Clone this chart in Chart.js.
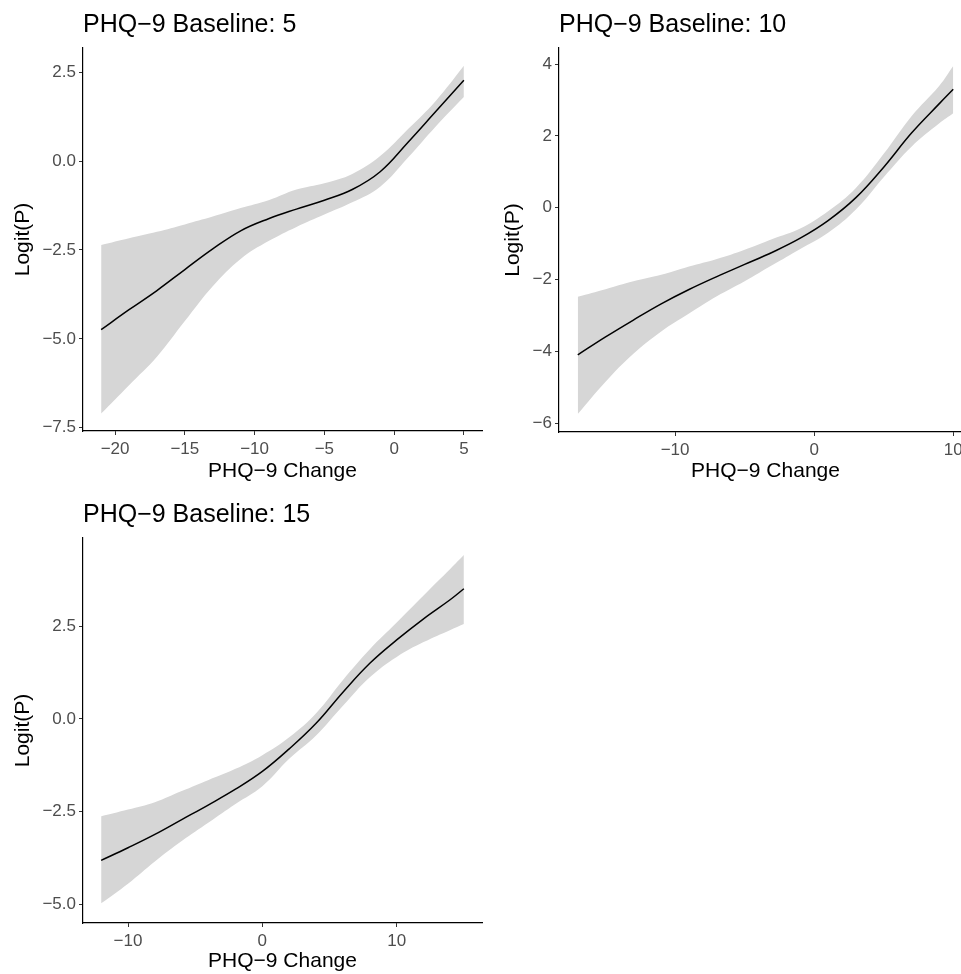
<!DOCTYPE html>
<html>
<head>
<meta charset="utf-8"/>
<title>PHQ-9 Logit(P)</title>
<script src="https://cdn.jsdelivr.net/npm/chart.js"></script>
<style>
  html, body { margin: 0; padding: 0; background: #fff; overflow: hidden; }
  body { width: 961px; height: 974px; position: relative; }
  canvas { position: absolute; }
  #c1 { left: 0; top: 0; }
  #c2 { left: 480px; top: 0; }
  #c3 { left: 0; top: 490px; }
</style>
</head>
<body>
<canvas id="c1" width="490" height="490"></canvas>
<canvas id="c2" width="500" height="490"></canvas>
<canvas id="c3" width="490" height="490"></canvas>
<script>
// Baseline 5
const change5 = [-21, -19, -17, -15, -13, -11, -9, -7, -5, -3, -1, 1, 3, 5];
const fit5    = [-4.74, -4.18, -3.64, -3.05, -2.47, -1.96, -1.62, -1.35, -1.1, -0.8, -0.3, 0.53, 1.4, 2.27];
const upper5  = [-2.36, -2.17, -1.99, -1.78, -1.56, -1.32, -1.1, -0.8, -0.62, -0.36, 0.14, 0.9, 1.7, 2.68];
const lower5  = [-7.1, -6.3, -5.5, -4.5, -3.52, -2.75, -2.25, -1.85, -1.5, -1.16, -0.72, 0.1, 0.98, 1.8];
const xTicks5 = [-20, -15, -10, -5, 0, 5];
const yTicks5 = [-7.5, -5, -2.5, 0, 2.5];

// Baseline 10
const change10 = [-17, -15, -13, -11, -9, -7, -5, -3, -1, 1, 3, 5, 7, 9, 10];
const fit10    = [-4.1, -3.6, -3.13, -2.68, -2.28, -1.92, -1.58, -1.24, -0.85, -0.36, 0.28, 1.13, 2.08, 2.9, 3.3];
const upper10  = [-2.48, -2.27, -2.05, -1.87, -1.64, -1.43, -1.17, -0.87, -0.58, -0.1, 0.55, 1.5, 2.55, 3.4, 3.95];
const lower10  = [-5.75, -4.85, -4.07, -3.45, -2.95, -2.47, -2.05, -1.6, -1.15, -0.7, -0.05, 0.85, 1.7, 2.35, 2.63];
const xTicks10 = [-10, 0, 10];
const yTicks10 = [-6, -4, -2, 0, 2, 4];

// Baseline 15
const change15 = [-12, -10, -8, -6, -4, -2, 0, 2, 4, 6, 8, 10, 12, 14, 15];
const fit15    = [-3.82, -3.48, -3.12, -2.72, -2.32, -1.9, -1.42, -0.81, -0.12, 0.72, 1.5, 2.13, 2.7, 3.22, 3.51];
const upper15  = [-2.63, -2.45, -2.25, -1.95, -1.65, -1.35, -0.98, -0.5, 0.15, 1.05, 1.88, 2.6, 3.33, 4.05, 4.42];
const lower15  = [-4.98, -4.45, -3.85, -3.3, -2.8, -2.3, -1.82, -1.08, -0.45, 0.35, 1.12, 1.67, 2.07, 2.4, 2.56];
const xTicks15 = [-10, 0, 10];
const yTicks15 = [-5, -2.5, 0, 2.5];

const FONT = "'Liberation Sans', Arial, sans-serif";

function fmt(v, dec) {
    const s = Math.abs(v).toFixed(dec);
    return v < 0 ? '\u2212' + s : s;
}

function pts(xs, ys) {
    return xs.map((x, i) => ({ x: x, y: ys[i] }));
}

function makePanel(id, p) {
    const ctx = document.getElementById(id).getContext('2d');
    return new Chart(ctx, {
        type: 'line',
        data: {
            datasets: [
                {
                    data: pts(p.xs, p.fit),
                    borderColor: '#000',
                    borderWidth: 1.5,
                    pointRadius: 0,
                    tension: 0.4,
                    fill: false,
                    order: 0
                },
                {
                    data: pts(p.xs, p.upper),
                    borderWidth: 0,
                    borderColor: 'rgba(0,0,0,0)',
                    backgroundColor: '#d6d6d6',
                    pointRadius: 0,
                    tension: 0.4,
                    fill: '+1',
                    order: 1
                },
                {
                    data: pts(p.xs, p.lower),
                    borderWidth: 0,
                    borderColor: 'rgba(0,0,0,0)',
                    pointRadius: 0,
                    tension: 0.4,
                    fill: false,
                    order: 2
                }
            ]
        },
        options: {
            responsive: false,
            animation: false,
            devicePixelRatio: 1,
            layout: { padding: { top: 0, right: p.padRight, bottom: 0, left: 0 } },
            plugins: {
                legend: { display: false },
                tooltip: { enabled: false },
                title: {
                    display: true,
                    text: p.title,
                    align: 'start',
                    fullSize: false,
                    color: '#000',
                    font: { family: FONT, size: 25, weight: 'normal' },
                    padding: { top: 10.5, bottom: 7.5 }
                }
            },
            scales: {
                x: {
                    type: 'linear',
                    min: p.xMin,
                    max: p.xMax,
                    afterBuildTicks: (axis) => { axis.ticks = p.xTicks.map(v => ({ value: v })); },
                    afterFit: (scale) => { scale.height = p.xAxisHeight; },
                    ticks: {
                        color: '#4d4d4d',
                        padding: 4,
                        maxRotation: 0,
                        font: { family: FONT, size: 17 },
                        callback: (v) => fmt(v, 0)
                    },
                    grid: { drawOnChartArea: false, drawTicks: true, tickLength: 4, tickColor: '#333' },
                    border: { display: true, color: '#000', width: 1.2 },
                    title: {
                        display: true,
                        text: 'PHQ\u22129 Change',
                        color: '#000',
                        font: { family: FONT, size: 21 },
                        padding: { top: 0, bottom: 5.7 }
                    }
                },
                y: {
                    type: 'linear',
                    min: p.yMin,
                    max: p.yMax,
                    afterBuildTicks: (axis) => { axis.ticks = p.yTicks.map(v => ({ value: v })); },
                    afterFit: (scale) => { scale.width = p.yAxisWidth; },
                    ticks: {
                        color: '#4d4d4d',
                        padding: 3,
                        font: { family: FONT, size: 17 },
                        callback: (v) => fmt(v, p.yDec)
                    },
                    grid: { drawOnChartArea: false, drawTicks: true, tickLength: 4, tickColor: '#333' },
                    border: { display: true, color: '#000', width: 1.2 },
                    title: {
                        display: true,
                        text: 'Logit(P)',
                        color: '#000',
                        font: { family: FONT, size: 21 },
                        padding: { top: p.yTitlePad, bottom: 0 }
                    }
                }
            }
        }
    });
}

makePanel('c1', {
    title: 'PHQ\u22129 Baseline: 5',
    xs: change5, fit: fit5, upper: upper5, lower: lower5,
    xTicks: xTicks5, yTicks: yTicks5, yDec: 1,
    xMin: -22.3, xMax: 6.3, yMin: -7.59, yMax: 3.18,
    yAxisWidth: 83, xAxisHeight: 59, padRight: 8, yTitlePad: 10.4
});

makePanel('c2', {
    title: 'PHQ\u22129 Baseline: 10',
    xs: change10, fit: fit10, upper: upper10, lower: lower10,
    xTicks: xTicks10, yTicks: yTicks10, yDec: 0,
    xMin: -18.35, xMax: 11.35, yMin: -6.25, yMax: 4.45,
    yAxisWidth: 79, xAxisHeight: 58, padRight: 8, yTitlePad: 20.4
});

makePanel('c3', {
    title: 'PHQ\u22129 Baseline: 15',
    xs: change15, fit: fit15, upper: upper15, lower: lower15,
    xTicks: xTicks15, yTicks: yTicks15, yDec: 1,
    xMin: -13.35, xMax: 16.35, yMin: -5.51, yMax: 4.88,
    yAxisWidth: 83, xAxisHeight: 57, padRight: 8, yTitlePad: 10.4
});
</script>
</body>
</html>
